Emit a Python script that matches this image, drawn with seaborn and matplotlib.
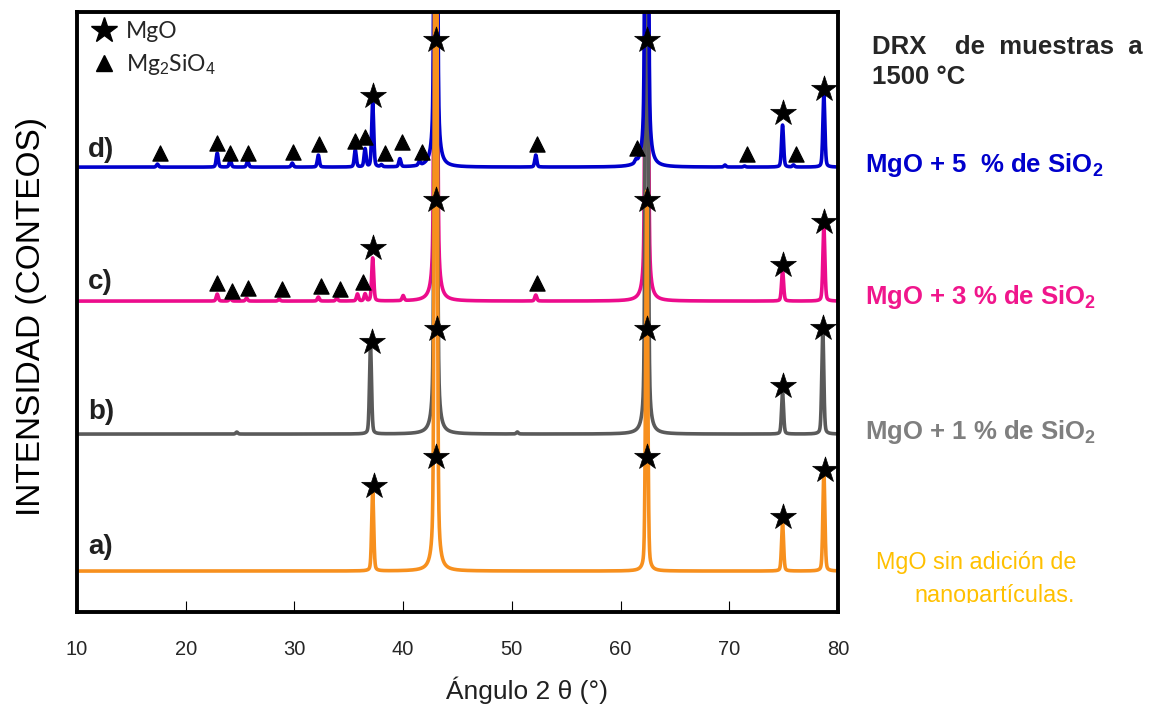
import numpy as np
import matplotlib
matplotlib.use('Agg')
import matplotlib.pyplot as plt
from matplotlib.lines import Line2D
from matplotlib.transforms import Bbox
import seaborn as sns

# Peak lists (angle in degrees, height above baseline in counts)
# a) MgO without additions
a_pos = [37.2, 43.0, 62.4, 74.9, 78.7]
a_hgt = [79, 1400, 380, 48, 98]
# b) MgO + 1 % SiO2
b_pos = [24.7, 37.0, 43.0, 50.5, 62.4, 74.9, 78.6]
b_hgt = [2, 88, 1400, 2, 1200, 41, 104]
# c) MgO + 3 % SiO2
c_pos = [22.9, 24.1, 25.6, 28.6, 32.2, 33.9, 35.8, 36.5, 37.2, 40.0, 43.0, 52.2, 62.4, 74.9, 78.7]
c_hgt = [7, 3, 3, 2, 4, 3, 7, 7, 43, 5, 1400, 6, 1200, 31, 74]
# d) MgO + 5 % SiO2
d_pos = [17.4, 22.9, 24.1, 25.7, 29.8, 32.2, 35.6, 36.5, 37.2, 38.0, 39.7, 41.5, 43.0,
         52.2, 61.4, 62.4, 69.6, 71.4, 74.9, 75.9, 78.7]
d_hgt = [3, 14, 7, 6, 4, 12, 17, 18, 64, 2, 8, 4, 1400,
         12, 3, 1500, 2, 1, 42, 2, 72]

baselines = [41, 178, 311, 445]
colors = ['#F7901E', '#5A5A5A', '#EC0C8C', '#0000CC']
panel_labels = ['a)', 'b)', 'c)', 'd)']
panel_label_y = [65, 200, 330, 462]

# MgO (star) and Mg2SiO4 (triangle) markers
star_pos = [[37.3, 43.0, 62.4, 74.9, 78.8],
            [37.1, 43.1, 62.4, 74.9, 78.6],
            [37.2, 43.0, 62.4, 74.9, 78.7],
            [37.2, 43.0, 62.4, 74.9, 78.7]]
star_y = [[126, 155, 155, 95, 142],
          [270, 283, 283, 226, 284],
          [364, 412, 412, 347, 390],
          [516, 572, 572, 499, 523]]
tri_c_pos = [22.9, 24.3, 25.7, 28.9, 32.4, 34.2, 36.3, 52.3]
tri_c_y = [329, 321, 324, 323, 326, 323, 330, 329]
tri_d_pos = [17.6, 22.9, 24.1, 25.7, 29.9, 32.3, 35.6, 36.5, 38.3, 39.9, 41.7,
             52.3, 61.5, 71.6, 76.1]
tri_d_y = [459, 469, 459, 459, 460, 468, 471, 475, 459, 470, 460,
           468, 464, 458, 458]

side_labels = [r'MgO + 1 % de $\mathbf{SiO_2}$',
               r'MgO + 3 % de $\mathbf{SiO_2}$',
               r'MgO + 5  % de $\mathbf{SiO_2}$']
side_colors = ['#7F7F7F', '#F0168C', '#0000CC']
side_y = [0.396, 0.585, 0.769]
x_ticks = [10, 20, 30, 40, 50, 60, 70, 80]


def pattern(two_theta, pos, hgt, fwhm=0.22, eta=0.3):
    # pseudo-Voigt sum for the listed peaks
    y = np.zeros_like(two_theta)
    for p, h in zip(pos, hgt):
        dx = (two_theta - p) / (fwhm / 2)
        lor = 1 / (1 + dx ** 2)
        gau = np.exp(-np.log(2) * dx ** 2)
        y += h * (eta * lor + (1 - eta) * gau)
    return y


sns.set_theme(style='white')
plt.rcParams['font.family'] = ['Liberation Sans', 'DejaVu Sans']
plt.rcParams['mathtext.fontset'] = 'custom'
plt.rcParams['mathtext.rm'] = 'Liberation Sans'
plt.rcParams['mathtext.bf'] = 'Liberation Sans:bold'

fig = plt.figure(figsize=(11.61, 7.15), dpi=100)
ax = fig.add_axes([0.0663, 0.144, 0.6555, 0.839])

tt = np.arange(10, 80.01, 0.01)
traces = [(a_pos, a_hgt), (b_pos, b_hgt), (c_pos, c_hgt), (d_pos, d_hgt)]
order = [2, 1, 3, 0]
for i in order:
    pos, hgt = traces[i]
    sns.lineplot(x=tt, y=baselines[i] + pattern(tt, pos, hgt), ax=ax,
                 color=colors[i], linewidth=2.6, estimator=None, errorbar=None)

for i in range(4):
    sns.scatterplot(x=star_pos[i], y=star_y[i], ax=ax, marker='*', s=380,
                    color='black', edgecolor='black', linewidth=0.5, zorder=5)
    ax.text(11.0, panel_label_y[i], panel_labels[i], fontsize=20,
            fontweight='bold', va='center', ha='left', color='#202020')
sns.scatterplot(x=tri_c_pos, y=tri_c_y, ax=ax, marker='^', s=120, color='black',
                edgecolor='black', zorder=5)
sns.scatterplot(x=tri_d_pos, y=tri_d_y, ax=ax, marker='^', s=120, color='black',
                edgecolor='black', zorder=5)

handles = [Line2D([], [], marker='*', linestyle='none', color='black', markersize=19),
           Line2D([], [], marker='^', linestyle='none', color='black', markersize=11)]
leg = ax.legend(handles, ['MgO', r'Mg$_2$SiO$_4$'], loc='upper left', frameon=False,
                prop={'family': 'Lato', 'size': 16.5}, handletextpad=0.4,
                handlelength=1.1, borderaxespad=0.25, labelspacing=0.45,
                bbox_to_anchor=(0.0, 1.01))

ax.set_xlim(10, 80)
ax.set_ylim(0, 600)
ax.set_yticks([])
ax.set_xticks(x_ticks)
ax.set_xticklabels([str(t) for t in x_ticks], fontsize=14.5)
ax.tick_params(axis='x', direction='in', length=8, width=0.8, color='black',
               pad=20, bottom=True)
for s in ax.spines.values():
    s.set_linewidth(2.8)
    s.set_color('black')

ax.set_xlabel('Ángulo 2 θ (°)', fontsize=19, color='#202020')
ax.xaxis.set_label_coords(0.591, -0.107)
ax.set_ylabel('INTENSIDAD (CONTEOS)', fontsize=24, color='black')
ax.yaxis.set_label_coords(-0.04, 0.493)

fig.text(0.751, 0.934, 'DRX    de  muestras  a', fontsize=18.5, fontweight='bold',
         va='center', ha='left')
fig.text(0.751, 0.892, '1500 °C', fontsize=18.5, fontweight='bold', va='center', ha='left')
for lab, col, yy in zip(side_labels, side_colors, side_y):
    fig.text(0.745, yy, lab, fontsize=18.5, fontweight='bold', color=col,
             va='center', ha='left')

fig.text(0.7545, 0.2126, 'MgO sin adición de', fontsize=16.8, color='#FFC000',
         va='center', ha='left')
t2 = fig.text(0.788, 0.167, 'nanopartículas.', fontsize=16.8, color='#FFC000',
              va='center', ha='left')
t2.set_clip_box(Bbox.from_extents(0, 112, 1161, 715))
t2.set_clip_on(True)

fig.savefig('out.png', dpi=100)
